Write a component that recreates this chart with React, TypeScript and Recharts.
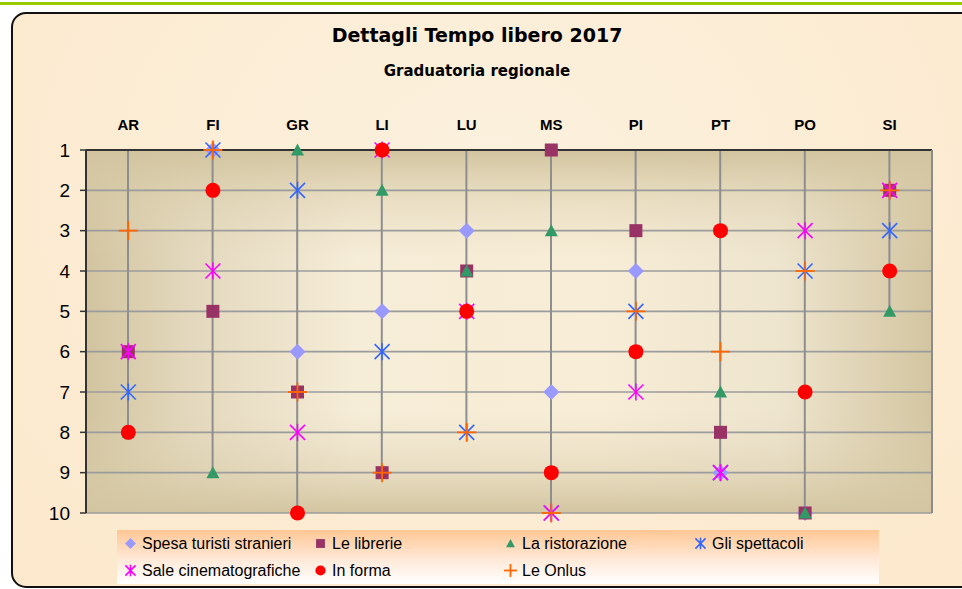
import React from 'react';
import { Bar, CartesianGrid, ComposedChart, Line, XAxis, YAxis } from 'recharts';

// province e posizione in graduatoria (1 = migliore)
const regions = ['AR', 'FI', 'GR', 'LI', 'LU', 'MS', 'PI', 'PT', 'PO', 'SI'];
const spesaTuristi = [8, 1, 6, 5, 3, 7, 4, 9, 10, 2];
const librerie = [6, 5, 7, 9, 4, 1, 3, 8, 10, 2];
const ristorazione = [8, 9, 1, 2, 4, 3, 6, 7, 10, 5];
const spettacoli = [7, 1, 2, 6, 8, 10, 5, 9, 4, 3];
const saleCinema = [6, 4, 8, 1, 5, 10, 7, 9, 3, 2];
const inForma = [8, 2, 10, 1, 5, 9, 6, 3, 7, 4];
const onlus = [3, 1, 7, 9, 8, 10, 5, 6, 4, 2];
const rankTicks = [1, 2, 3, 4, 5, 6, 7, 8, 9, 10];

type Shape = 'diamond' | 'square' | 'triangle' | 'star' | 'circle' | 'plus';

interface SeriesDef {
  key: string;
  name: string;
  values: number[];
  color: string;
  shape: Shape;
}

const series: SeriesDef[] = [
  { key: 'spesa', name: 'Spesa turisti stranieri', values: spesaTuristi, color: '#9999FF', shape: 'diamond' },
  { key: 'librerie', name: 'Le librerie', values: librerie, color: '#993366', shape: 'square' },
  { key: 'ristorazione', name: 'La ristorazione', values: ristorazione, color: '#339966', shape: 'triangle' },
  { key: 'spettacoli', name: 'Gli spettacoli', values: spettacoli, color: '#3366FF', shape: 'star' },
  { key: 'sale', name: 'Sale cinematografiche', values: saleCinema, color: '#FF00FF', shape: 'star' },
  { key: 'inForma', name: 'In forma', values: inForma, color: '#FF0000', shape: 'circle' },
  { key: 'onlus', name: 'Le Onlus', values: onlus, color: '#FF6600', shape: 'plus' },
];

const markerSize: Record<Shape, number> = {
  diamond: 16,
  square: 13,
  triangle: 13,
  star: 17,
  circle: 15,
  plus: 19,
};

const data = regions.map((region, i) => {
  const row: Record<string, string | number> = { region };
  series.forEach((s) => {
    row[s.key] = s.values[i];
  });
  // linea di riferimento dall'asse fino al punto più basso
  row.drop = Math.max(...series.map((s) => s.values[i]));
  return row;
});

const Marker = ({ shape, color, cx, cy, size }: { shape: Shape; color: string; cx: number; cy: number; size: number }) => {
  const r = size / 2;
  switch (shape) {
    case 'diamond':
      return <polygon points={`${cx},${cy - r} ${cx + r},${cy} ${cx},${cy + r} ${cx - r},${cy}`} fill={color} />;
    case 'square':
      return <rect x={cx - r} y={cy - r} width={size} height={size} fill={color} />;
    case 'triangle':
      return <polygon points={`${cx},${cy - r} ${cx + r},${cy + r * 0.85} ${cx - r},${cy + r * 0.85}`} fill={color} />;
    case 'star': {
      const d = r * 0.88;
      return (
        <g stroke={color} strokeWidth={1.6}>
          <line x1={cx - d} y1={cy - d} x2={cx + d} y2={cy + d} />
          <line x1={cx - d} y1={cy + d} x2={cx + d} y2={cy - d} />
          <line x1={cx} y1={cy - r} x2={cx} y2={cy + r} />
        </g>
      );
    }
    case 'circle':
      return <circle cx={cx} cy={cy} r={r} fill={color} />;
    case 'plus':
    default:
      return (
        <g stroke={color} strokeWidth={1.8}>
          <line x1={cx - r} y1={cy} x2={cx + r} y2={cy} />
          <line x1={cx} y1={cy - r} x2={cx} y2={cy + r} />
        </g>
      );
  }
};

const LegendBox = () => (
  <div
    style={{
      position: 'absolute',
      left: 117,
      top: 530,
      width: 762,
      height: 54,
      background: 'linear-gradient(#FFC794, #FFE9D8 55%, #FFFFFF)',
      display: 'grid',
      gridTemplateColumns: '190px 190px 190px 190px',
      gridAutoRows: '27px',
      paddingLeft: 6,
      boxSizing: 'border-box',
      fontFamily: '"Liberation Sans", Arial, sans-serif',
      fontSize: 16,
      color: '#000',
    }}
  >
    {series.map((s) => (
      <div key={s.key} style={{ display: 'flex', alignItems: 'center' }}>
        <svg width={15} height={15} style={{ marginRight: 4 }}>
          <Marker shape={s.shape} color={s.color} cx={7.5} cy={7.5} size={markerSize[s.shape] * 0.68} />
        </svg>
        <span>{s.name}</span>
      </div>
    ))}
  </div>
);

const axisFont = '"Liberation Sans", Arial, sans-serif';

export default function App() {
  return (
    <div style={{ position: 'absolute', left: 0, top: 0, width: 962, height: 589, overflow: 'hidden', background: '#fff' }}>
      <div style={{ position: 'absolute', left: 0, top: 2, width: 962, height: 3, background: '#99CC00' }} />
      <div
        style={{
          position: 'absolute',
          left: 11,
          top: 12,
          width: 965,
          height: 576,
          boxSizing: 'border-box',
          border: '2px solid #111',
          borderRadius: '15px 0 0 15px',
          background: 'radial-gradient(ellipse at 50% 30%, #FBF1DE 0%, #FCEBD1 70%, #FCE9CD 100%)',
        }}
      />
      <div
        style={{
          position: 'absolute',
          left: 0,
          top: 24,
          width: 954,
          textAlign: 'center',
          fontFamily: '"DejaVu Sans", sans-serif',
          fontWeight: 'bold',
          fontSize: 19,
          color: '#000',
        }}
      >
        Dettagli Tempo libero 2017
      </div>
      <div
        style={{
          position: 'absolute',
          left: 0,
          top: 62,
          width: 954,
          textAlign: 'center',
          fontFamily: '"DejaVu Sans", sans-serif',
          fontWeight: 'bold',
          fontSize: 15,
          color: '#000',
        }}
      >
        Graduatoria regionale
      </div>
      <div style={{ position: 'absolute', left: 0, top: 0 }}>
        <ComposedChart width={962} height={589} data={data} margin={{ top: 110, right: 29, bottom: 76, left: 0 }}>
          <defs>
            <linearGradient id="plotBgH" x1="0" y1="0" x2="1" y2="0">
              <stop offset="0%" stopColor="#D2C49F" />
              <stop offset="12%" stopColor="#E3D8BD" />
              <stop offset="32%" stopColor="#F6EDD8" />
              <stop offset="60%" stopColor="#F8EDD6" />
              <stop offset="82%" stopColor="#EEE5CF" />
              <stop offset="100%" stopColor="#D3C5A0" />
            </linearGradient>
            <linearGradient id="plotBgV" x1="0" y1="0" x2="0" y2="1">
              <stop offset="0%" stopColor="#D2C49F" stopOpacity={1} />
              <stop offset="13%" stopColor="#D8CBA8" stopOpacity={0.45} />
              <stop offset="30%" stopColor="#E0D4B6" stopOpacity={0} />
              <stop offset="72%" stopColor="#E0D4B6" stopOpacity={0} />
              <stop offset="88%" stopColor="#D8CBA8" stopOpacity={0.45} />
              <stop offset="100%" stopColor="#D3C5A0" stopOpacity={1} />
            </linearGradient>
          </defs>
          <CartesianGrid horizontal={false} vertical={false} fill="url(#plotBgH)" fillOpacity={1} />
          <CartesianGrid vertical={false} stroke="#9C9C9C" strokeWidth={1.6} fill="url(#plotBgV)" fillOpacity={1} />
          <XAxis
            dataKey="region"
            orientation="top"
            height={40}
            tickLine={false}
            tickSize={0}
            tickMargin={20}
            axisLine={{ stroke: '#333', strokeWidth: 2 }}
            tick={{ fontSize: 15, fontWeight: 'bold', fill: '#000', fontFamily: axisFont }}
          />
          <YAxis
            type="number"
            reversed
            domain={[1, 10]}
            ticks={rankTicks}
            interval={0}
            width={86}
            tickSize={6}
            tickMargin={10}
            tickLine={{ stroke: '#333', strokeWidth: 1.5 }}
            axisLine={{ stroke: '#333', strokeWidth: 2 }}
            tick={{ fontSize: 19, fill: '#000', fontFamily: axisFont }}
          />
          <YAxis
            yAxisId="right"
            orientation="right"
            type="number"
            domain={[1, 10]}
            width={1}
            tick={false}
            tickLine={false}
            axisLine={{ stroke: '#8C8C8C', strokeWidth: 2 }}
          />
          <Bar dataKey="drop" barSize={2} fill="#8E8E8E" isAnimationActive={false} legendType="none" />
          {series.map((s) => (
            <Line
              key={s.key}
              dataKey={s.key}
              name={s.name}
              stroke="none"
              isAnimationActive={false}
              activeDot={false}
              dot={(p: any) => (
                <Marker
                  key={`${s.key}-${p.index}`}
                  shape={s.shape}
                  color={s.color}
                  cx={p.cx}
                  cy={p.cy}
                  size={markerSize[s.shape]}
                />
              )}
            />
          ))}
        </ComposedChart>
      </div>
      <LegendBox />
    </div>
  );
}
